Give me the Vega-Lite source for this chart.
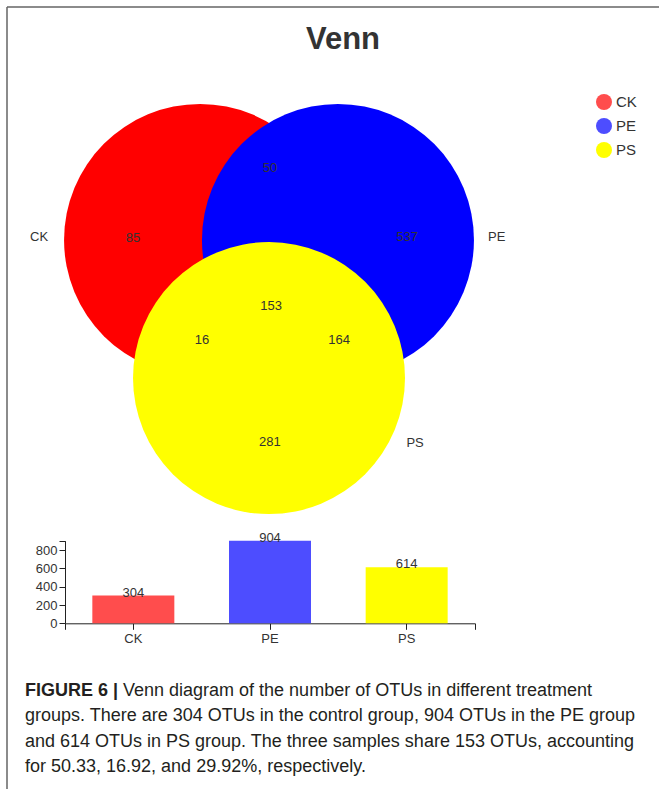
{
  "$schema": "https://vega.github.io/schema/vega-lite/v6.json",
  "width": 652,
  "height": 782,
  "padding": {"left": 7, "top": 7, "right": 0, "bottom": 0},
  "autosize": {"type": "none"},
  "background": "white",
  "title": {"text": "Venn", "anchor": "middle", "fontSize": 31, "fontWeight": "bold", "color": "#333333", "font": "Liberation Sans", "dx": 10, "dy": 49, "baseline": "top", "offset": 0},
  "config": {
    "font": "Liberation Sans",
    "view": {"stroke": "#666666", "strokeWidth": 1.5, "strokeDash": [652, 1434, 782, 0]}
  },
  "datasets": {
    "circles": [
      {"set": "CK", "cx": -0.507, "cy": 0},
      {"set": "PE", "cx": 0.507, "cy": 0},
      {"set": "PS", "cx": 0, "cy": -1.015}
    ],
    "regions": [
      {"label": "CK", "lx": -1.691, "ly": 0.022},
      {"label": "PE", "lx": 1.674, "ly": 0.022},
      {"label": "PS", "lx": 1.074, "ly": -1.49},
      {"label": "85", "lx": -1.0, "ly": 0.018},
      {"label": "537", "lx": 1.015, "ly": 0.022},
      {"label": "50", "lx": 0.007, "ly": 0.529},
      {"label": "153", "lx": 0.015, "ly": -0.483},
      {"label": "16", "lx": -0.493, "ly": -0.733},
      {"label": "164", "lx": 0.515, "ly": -0.735},
      {"label": "281", "lx": 0.007, "ly": -1.489}
    ],
    "bars": [
      {"group": "CK", "count": 304},
      {"group": "PE", "count": 904},
      {"group": "PS", "count": 614}
    ],
    "axisEnds": [
      {"end": 0},
      {"end": 1}
    ],
    "caption": [
      {"line": 1, "lead": "FIGURE 6 |", "text": "Venn diagram of the number of OTUs in different treatment"},
      {"line": 2, "lead": "", "text": "groups. There are 304 OTUs in the control group, 904 OTUs in the PE group"},
      {"line": 3, "lead": "", "text": "and 614 OTUs in PS group. The three samples share 153 OTUs, accounting"},
      {"line": 4, "lead": "", "text": "for 50.33, 16.92, and 29.92%, respectively."}
    ]
  },
  "resolve": {
    "scale": {"x": "independent", "y": "independent", "color": "independent"},
    "axis": {"x": "independent", "y": "independent"},
    "legend": {"color": "independent"}
  },
  "layer": [
    {
      "layer": [
        {
          "data": {"name": "circles"},
          "mark": {"type": "point", "filled": true, "opacity": 1, "shape": "circle", "size": 73984, "strokeWidth": 0},
          "encoding": {
            "x": {"field": "cx", "type": "quantitative", "scale": {"domain": [-1.9265, 2.8676], "nice": false, "zero": false}, "axis": null},
            "y": {"field": "cy", "type": "quantitative", "scale": {"domain": [-4.0368, 1.7132], "nice": false, "zero": false}, "axis": null},
            "color": {"field": "set", "type": "nominal", "scale": {"domain": ["CK", "PE", "PS"], "range": ["#ff0000", "#0000ff", "#ffff00"]}, "legend": null}
          }
        },
        {
          "data": {"name": "regions"},
          "mark": {"type": "text", "fontSize": 13, "color": "#333333", "align": "center", "baseline": "middle"},
          "encoding": {
            "x": {"field": "lx", "type": "quantitative", "scale": {"domain": [-1.9265, 2.8676], "nice": false, "zero": false}, "axis": null},
            "y": {"field": "ly", "type": "quantitative", "scale": {"domain": [-4.0368, 1.7132], "nice": false, "zero": false}, "axis": null},
            "text": {"field": "label", "type": "nominal"}
          }
        }
      ]
    },
    {
      "data": {"name": "bars"},
      "encoding": {
        "x": {
          "field": "group", "type": "nominal",
          "scale": {"range": [58, 468], "paddingInner": 0.4, "paddingOuter": 0.2},
          "axis": {"orient": "bottom", "offset": -165.7, "title": null, "labelAngle": 0, "labelFontSize": 13, "labelColor": "#333333", "domainColor": "#222222", "tickColor": "#222222", "tickSize": 6, "labelPadding": 3, "grid": false}
        },
        "y": {
          "field": "count", "type": "quantitative",
          "scale": {"domain": [0, 904], "range": [616.3, 533.7], "nice": false, "zero": true},
          "axis": {"orient": "left", "offset": -58, "title": null, "values": [0, 200, 400, 600, 800, 904], "labelExpr": "datum.value == 904 ? '' : datum.label", "labelFontSize": 13, "labelColor": "#333333", "domainColor": "#222222", "tickColor": "#222222", "tickSize": 6, "labelPadding": 2, "grid": false}
        }
      },
      "layer": [
        {
          "mark": {"type": "bar"},
          "encoding": {
            "color": {
              "field": "group", "type": "nominal",
              "scale": {"domain": ["CK", "PE", "PS"], "range": ["#ff4d4d", "#4d4dff", "#ffff00"]},
              "legend": {"orient": "none", "legendX": 589, "legendY": 87, "title": null, "symbolType": "circle", "symbolSize": 256, "symbolStrokeWidth": 0, "symbolOpacity": 1, "labelFontSize": 15, "labelColor": "#333333", "labelFont": "Liberation Sans", "rowPadding": 8, "labelOffset": 4, "padding": 0}
            }
          }
        },
        {
          "mark": {"type": "text", "fontSize": 13, "color": "#333333", "align": "center", "baseline": "alphabetic", "dy": 1},
          "encoding": {"text": {"field": "count", "type": "quantitative"}}
        }
      ]
    },
    {
      "data": {"name": "axisEnds"},
      "mark": {"type": "rule", "opacity": 0},
      "encoding": {
        "x": {
          "field": "end", "type": "quantitative",
          "scale": {"domain": [0, 1], "range": [58, 468], "nice": false, "zero": false},
          "axis": {"orient": "bottom", "offset": -165.7, "title": null, "values": [0, 1], "labels": false, "domain": false, "grid": false, "tickColor": "#222222", "tickSize": 6}
        }
      }
    },
    {
      "data": {"name": "caption"},
      "encoding": {
        "y": {"field": "line", "type": "quantitative", "scale": {"domain": [1, 4], "range": [684, 760], "nice": false, "zero": false}, "axis": null},
        "x": {"value": 18}
      },
      "layer": [
        {
          "mark": {"type": "text", "align": "left", "baseline": "middle", "fontSize": 18, "fontWeight": "bold", "color": "#231f20"},
          "encoding": {"text": {"field": "lead"}}
        },
        {
          "transform": [{"filter": "datum.line == 1"}],
          "mark": {"type": "text", "align": "left", "baseline": "middle", "fontSize": 18, "color": "#231f20", "dx": 98},
          "encoding": {"text": {"field": "text"}}
        },
        {
          "transform": [{"filter": "datum.line > 1"}],
          "mark": {"type": "text", "align": "left", "baseline": "middle", "fontSize": 18, "color": "#231f20"},
          "encoding": {"text": {"field": "text"}}
        }
      ]
    }
  ]
}
